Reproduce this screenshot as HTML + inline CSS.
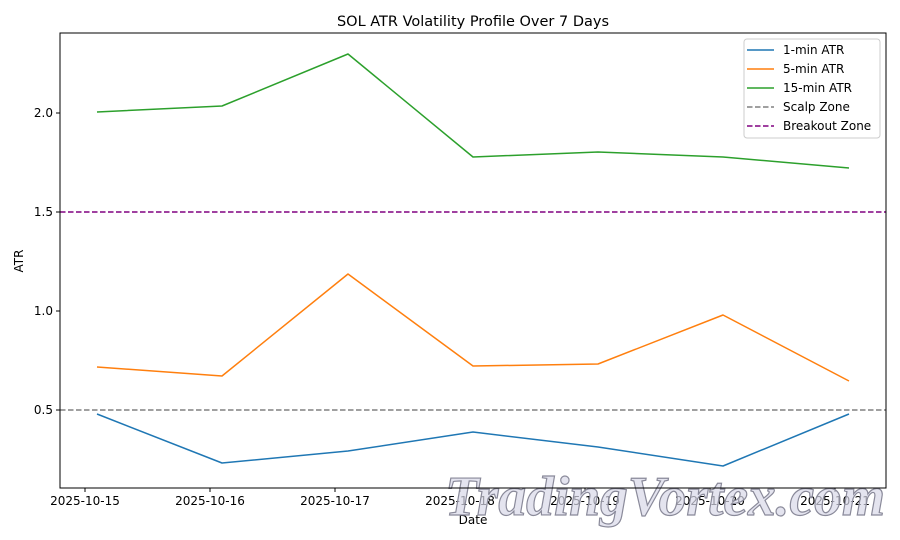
<!DOCTYPE html>
<html><head><meta charset="utf-8"><style>body{margin:0;background:#fff}svg{display:block}</style></head>
<body>
<svg width="900" height="540" xmlns="http://www.w3.org/2000/svg" font-family="DejaVu Sans, Liberation Sans, sans-serif">
<rect width="900" height="540" fill="#fff"/>
<text x="473" y="26" font-size="14.5" text-anchor="middle">SOL ATR Volatility Profile Over 7 Days</text>
<g stroke="#000" stroke-width="1">
<line x1="56" y1="113" x2="60" y2="113"/><line x1="56" y1="212" x2="60" y2="212"/><line x1="56" y1="311" x2="60" y2="311"/><line x1="56" y1="410" x2="60" y2="410"/>
<line x1="85" y1="488" x2="85" y2="492"/><line x1="210" y1="488" x2="210" y2="492"/><line x1="335" y1="488" x2="335" y2="492"/><line x1="460" y1="488" x2="460" y2="492"/><line x1="585" y1="488" x2="585" y2="492"/><line x1="710" y1="488" x2="710" y2="492"/><line x1="835" y1="488" x2="835" y2="492"/>
</g>
<g font-size="12" text-anchor="end">
<text x="53" y="117">2.0</text><text x="53" y="216">1.5</text><text x="53" y="315">1.0</text><text x="53" y="414">0.5</text>
</g>
<g font-size="12" text-anchor="middle">
<text x="85" y="505">2025-10-15</text><text x="210" y="505">2025-10-16</text><text x="335" y="505">2025-10-17</text><text x="460" y="505">2025-10-18</text><text x="585" y="505">2025-10-19</text><text x="710" y="505">2025-10-20</text><text x="835" y="505">2025-10-21</text>
<text x="473" y="524">Date</text>
</g>
<text x="23" y="261" font-size="12" text-anchor="middle" transform="rotate(-90 23 261)">ATR</text>
<line x1="60" y1="212" x2="886" y2="212" stroke="#800080" stroke-width="1.5" stroke-dasharray="5.5,2.5"/>
<line x1="60" y1="410" x2="886" y2="410" stroke="#808080" stroke-width="1.5" stroke-dasharray="5.5,2.5"/>
<g fill="none" stroke-width="1.5" stroke-linejoin="round">
<polyline stroke="#1f77b4" points="97,414 222,463 348,451 473,432 598,447 723,466 849,414"/>
<polyline stroke="#ff7f0e" points="97,367 222,376 348,274 473,366 598,364 723,315 849,381"/>
<polyline stroke="#2ca02c" points="97,112 222,106 348,54 473,157 598,152 723,157 849,168"/>
</g>
<text x="665" y="515" font-size="56" font-family="Liberation Serif, serif" font-style="italic" font-weight="bold" text-anchor="middle" textLength="440" lengthAdjust="spacingAndGlyphs" fill="#d8d8e8" fill-opacity="0.7" stroke="#8a8a9a" stroke-width="1.2">TradingVortex.com</text>
<rect x="60" y="33" width="826" height="455" fill="none" stroke="#000" stroke-width="1"/>
<rect x="744" y="39" width="136" height="99" rx="3" fill="#fff" fill-opacity="0.85" stroke="#ccc"/>
<g stroke-width="1.5">
<line x1="747" y1="50" x2="774" y2="50" stroke="#1f77b4"/>
<line x1="747" y1="69" x2="774" y2="69" stroke="#ff7f0e"/>
<line x1="747" y1="88" x2="774" y2="88" stroke="#2ca02c"/>
<line x1="747" y1="107" x2="774" y2="107" stroke="#808080" stroke-dasharray="5.5,2.5"/>
<line x1="747" y1="126" x2="774" y2="126" stroke="#800080" stroke-dasharray="5.5,2.5"/>
</g>
<g font-size="12">
<text x="783" y="54">1-min ATR</text><text x="783" y="73">5-min ATR</text><text x="783" y="92">15-min ATR</text><text x="783" y="111">Scalp Zone</text><text x="783" y="130">Breakout Zone</text>
</g>
</svg>
</body></html>
